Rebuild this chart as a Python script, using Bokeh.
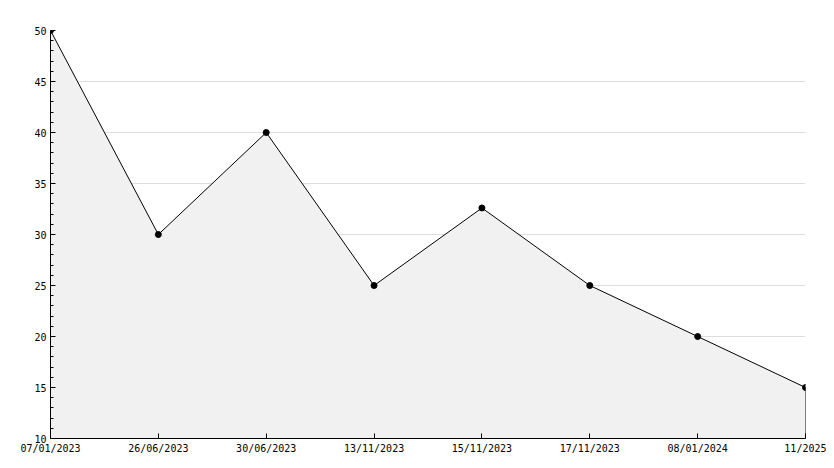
from bokeh.plotting import figure
from bokeh.models import Range1d, FixedTicker
from bokeh.embed import file_html
from bokeh.resources import INLINE

dates = ["07/01/2023", "26/06/2023", "30/06/2023", "13/11/2023",
         "15/11/2023", "17/11/2023", "08/01/2024", "11/2025"]
values = [50, 30, 40, 25, 32.6, 25, 20, 15]
y_min, y_max = 10, 50
y_ticks = [10, 15, 20, 25, 30, 35, 40, 45, 50]

idx = list(range(len(dates)))

p = figure(width=826, height=460, output_backend="svg", toolbar_location=None,
           x_range=Range1d(0, len(dates) - 1), y_range=Range1d(y_min, y_max),
           min_border_left=50, min_border_right=21, min_border_top=30, min_border_bottom=22)
p.outline_line_color = None
p.background_fill_color = "white"

px = idx + [idx[-1], idx[0]]
py = values + [y_min, y_min]
p.patch(px, py, fill_color="#f1f1f1", line_color="black", line_width=1)
p.scatter(idx, values, size=6, color="black", marker="circle")

p.xaxis.ticker = FixedTicker(ticks=idx)
p.xaxis.major_label_overrides = {i: d for i, d in zip(idx, dates)}
p.yaxis.ticker = FixedTicker(ticks=y_ticks, minor_ticks=[t for t in range(y_min, y_max) if t % 5 != 0])

for ax in (p.xaxis[0], p.yaxis[0]):
    ax.axis_line_color = "black"
    ax.major_tick_line_color = "black"
    ax.minor_tick_line_color = "black"
    ax.major_tick_in = 5
    ax.major_tick_out = 0
    ax.minor_tick_in = 3
    ax.minor_tick_out = 0
    ax.major_label_text_font = "DejaVu Sans Mono"
    ax.major_label_text_font_size = "10px"
    ax.major_label_text_color = "black"
    ax.major_label_standoff = 4
p.xaxis.minor_tick_line_color = None

p.xgrid.grid_line_color = None
p.ygrid.grid_line_color = "#dddddd"
p.ygrid.ticker = FixedTicker(ticks=y_ticks)

open("out.html", "w").write(file_html(p, INLINE))
